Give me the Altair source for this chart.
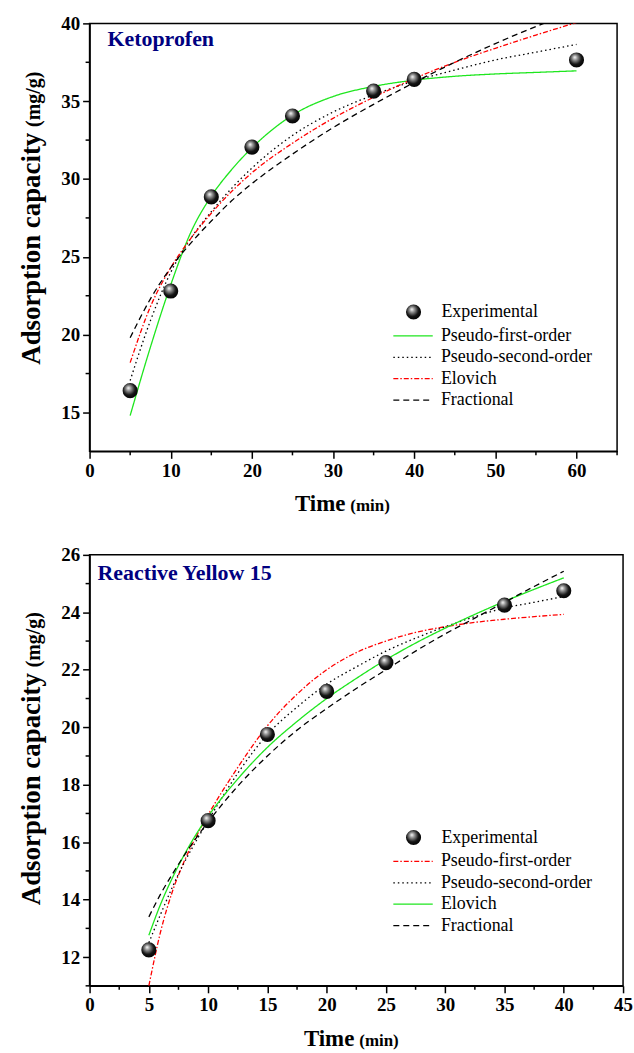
import altair as alt
import pandas as pd

SERIF = "Liberation Serif"
MODELS = ["Pseudo-first-order", "Pseudo-second-order", "Elovich", "Fractional"]
SOLID = [1, 0]
DOTTED = [1.5, 3]
DASHDOT = [5, 2, 1.5, 2]
DASHED = [6, 4]

# ---------------- Ketoprofen (top panel) ----------------
keto_exp_t = [5, 10, 15, 20, 25, 35, 40, 60]
keto_exp_q = [16.4, 22.8, 28.85, 32.05, 34.05, 35.65, 36.4, 37.65]
keto_fit_t = [5, 7.5, 10, 12.5, 15, 17.5, 20, 25, 30, 35, 40, 45, 50, 55, 60]
keto_pfo = [14.8, 19.2, 23.2, 26.6, 28.9, 30.6, 32.0, 34.1, 35.3, 35.95, 36.35, 36.6, 36.75, 36.85, 36.95]
keto_pso = [17.05, 20.9, 24.0, 26.2, 27.9, 29.4, 30.7, 32.8, 34.3, 35.4, 36.3, 37.0, 37.65, 38.15, 38.65]
keto_elovich = [18.2, 21.8, 24.3, 26.2, 27.8, 29.2, 30.4, 32.3, 33.9, 35.25, 36.45, 37.5, 38.4, 39.25, 40.05]
keto_frac = [19.8, 22.3, 24.3, 25.9, 27.3, 28.6, 29.7, 31.6, 33.3, 34.8, 36.2, 37.5, 38.7, 39.8, 40.8]
keto_colors = ["#1ee61e", "#000000", "#ff0000", "#000000"]
keto_dashes = [SOLID, DOTTED, DASHDOT, DASHED]
keto_x_major = [0, 10, 20, 30, 40, 50, 60]
keto_x_minor = [5, 15, 25, 35, 45, 55, 65]
keto_y_major = [15, 20, 25, 30, 35, 40]
keto_y_minor = [17.5, 22.5, 27.5, 32.5, 37.5]

# ---------------- Reactive Yellow 15 (bottom panel) ----------------
ry_exp_t = [5, 10, 15, 20, 25, 35, 40]
ry_exp_q = [12.25, 16.75, 19.75, 21.25, 22.25, 24.25, 24.75]
ry_fit_t = [5, 6, 7, 8, 9, 10, 12.5, 15, 17.5, 20, 22.5, 25, 27.5, 30, 32.5, 35, 37.5, 40]
ry_pfo = [11.0, 12.9, 14.3, 15.35, 16.2, 16.95, 18.6, 20.05, 21.15, 22.0, 22.6, 23.0, 23.3, 23.5, 23.65, 23.76, 23.85, 23.93]
ry_pso = [12.5, 13.5, 14.45, 15.3, 16.05, 16.75, 18.4, 19.75, 20.7, 21.5, 22.1, 22.65, 23.1, 23.5, 23.85, 24.15, 24.35, 24.55]
ry_elovich = [12.76, 13.85, 14.77, 15.57, 16.28, 16.9, 18.2, 19.3, 20.2, 21.0, 21.7, 22.35, 22.93, 23.45, 23.93, 24.38, 24.8, 25.2]
ry_frac = [13.4, 14.2, 14.9, 15.55, 16.15, 16.7, 17.95, 19.0, 19.9, 20.65, 21.35, 22.0, 22.65, 23.25, 23.8, 24.35, 24.9, 25.43]
ry_colors = ["#ff0000", "#000000", "#1ee61e", "#000000"]
ry_dashes = [DASHDOT, DOTTED, SOLID, DASHED]
ry_x_major = [0, 5, 10, 15, 20, 25, 30, 35, 40, 45]
ry_x_minor = [2.5, 7.5, 12.5, 17.5, 22.5, 27.5, 32.5, 37.5, 42.5]
ry_y_major = [12, 14, 16, 18, 20, 22, 24, 26]
ry_y_minor = [11, 13, 15, 17, 19, 21, 23, 25]

ball_fill = alt.RadialGradient(
    gradient="radial",
    stops=[
        alt.GradientStop(offset=0, color="#ffffff"),
        alt.GradientStop(offset=0.25, color="#9a9a9a"),
        alt.GradientStop(offset=0.65, color="#151515"),
        alt.GradientStop(offset=1, color="#000000"),
    ],
    x1=0.38, y1=0.32, r1=0, x2=0.45, y2=0.42, r2=0.62,
)


def make_axis(values):
    return alt.Axis(
        values=values, title=None, grid=False, labelFont=SERIF, labelFontSize=19,
        labelFontWeight="bold", labelColor="black", tickSize=7, tickWidth=1.5,
        tickColor="black", domainColor="black", domainWidth=1.5, labelPadding=3,
        labelFlush=False, labelOverlap=False,
    )


def text_layer(s, x, y, size, weight="bold", align="left", angle=0, color="black"):
    return alt.Chart(pd.DataFrame({"s": [s]})).mark_text(
        font=SERIF, fontSize=size, fontWeight=weight, align=align,
        baseline="alphabetic", angle=angle, color=color,
    ).encode(text="s:N", x=alt.value(x), y=alt.value(y))


def panel(exp_t, exp_q, fit_t, fits, colors, dashes, title, title_x, title_y,
          xdom, xmaj, xmin, ydom, ymaj, ymin, W, H, leg_y_exp, leg_y_lines,
          ytitle_pos, xtitle_pos):
    exp_df = pd.DataFrame({"t": exp_t, "q": exp_q, "kind": "Experimental"})
    fit_df = pd.concat(
        [pd.DataFrame({"t": fit_t, "q": vals, "model": name}) for name, vals in zip(MODELS, fits)]
    )
    xs = alt.Scale(domain=xdom, nice=False, zero=False)
    ys = alt.Scale(domain=ydom, nice=False, zero=False)
    xax = make_axis(xmaj)
    yax = make_axis(ymaj)

    line_legend = alt.Legend(
        orient="none", legendX=313, legendY=leg_y_lines, title=None, padding=0,
        symbolType="M-1.8,0H1.8", symbolSize=484, symbolStrokeWidth=1.3,
        labelFont=SERIF, labelFontSize=18, labelColor="black", labelOffset=16,
        rowPadding=0.5,
    )
    exp_legend = alt.Legend(
        orient="none", legendX=316.5, legendY=leg_y_exp, title=None, padding=0,
        symbolType="circle", symbolSize=230, symbolStrokeWidth=0,
        labelFont=SERIF, labelFontSize=18, labelColor="black", labelOffset=19,
    )

    lines = alt.Chart(fit_df).mark_line(clip=True, strokeWidth=1.3, interpolate="monotone").encode(
        x=alt.X("t:Q", scale=xs, axis=xax),
        y=alt.Y("q:Q", scale=ys, axis=yax),
        color=alt.Color("model:N", scale=alt.Scale(domain=MODELS, range=colors), legend=line_legend),
        strokeDash=alt.StrokeDash("model:N", scale=alt.Scale(domain=MODELS, range=dashes), legend=line_legend),
    )
    balls = alt.Chart(exp_df).mark_point(filled=True, size=230, fill=ball_fill, strokeWidth=0, opacity=1).encode(
        x=alt.X("t:Q", scale=xs, axis=xax),
        y=alt.Y("q:Q", scale=ys, axis=yax),
        shape=alt.Shape("kind:N", scale=alt.Scale(domain=["Experimental"], range=["circle"]), legend=exp_legend),
    )
    xminor = alt.Chart(pd.DataFrame({"v": xmin})).mark_rule(color="black", strokeWidth=1.5).encode(
        x=alt.X("v:Q", scale=xs, axis=xax), y=alt.value(H), y2=alt.value(H + 4)
    )
    yminor = alt.Chart(pd.DataFrame({"v": ymin})).mark_rule(color="black", strokeWidth=1.5).encode(
        y=alt.Y("v:Q", scale=ys, axis=yax), x=alt.value(0), x2=alt.value(-4)
    )
    (ya, yb), (xa, xb) = ytitle_pos, xtitle_pos
    layers = [
        lines, balls, xminor, yminor,
        text_layer(title, title_x, title_y, 22, color="#000080"),
        text_layer("Adsorption capacity", -50, ya, 27, angle=270),
        text_layer("(mg/g)", -50, yb, 20, angle=270),
        text_layer("Time", xa, H + 60, 23, align="right"),
        text_layer("(min)", xb, H + 60, 17),
    ]
    return alt.layer(*layers).properties(width=W, height=H)


top = panel(
    keto_exp_t, keto_exp_q, keto_fit_t, [keto_pfo, keto_pso, keto_elovich, keto_frac],
    keto_colors, keto_dashes, "Ketoprofen", 18, 23, [0, 65], keto_x_major, keto_x_minor,
    [12.5, 40], keto_y_major, keto_y_minor, 530, 430, 281, 302,
    (343, 104), (257, 262),
)
bottom = panel(
    ry_exp_t, ry_exp_q, ry_fit_t, [ry_pfo, ry_pso, ry_elovich, ry_frac],
    ry_colors, ry_dashes, "Reactive Yellow 15", 8, 25, [0, 45], ry_x_major, ry_x_minor,
    [11, 26], ry_y_major, ry_y_minor, 536, 433, 275, 296,
    (352, 113), (266, 271),
)

chart = (
    alt.vconcat(top, bottom, spacing=28)
    .resolve_scale(color="independent", strokeDash="independent", shape="independent",
                   x="independent", y="independent")
    .resolve_legend(color="independent", strokeDash="independent", shape="independent")
    .properties(padding={"left": 17, "top": 11, "right": 0, "bottom": 0}, background="white")
    .configure(font=SERIF)
    .configure_view(stroke="black", strokeWidth=1.5)
)

chart.save("out.html", embed_options={"renderer": "svg", "actions": False})
